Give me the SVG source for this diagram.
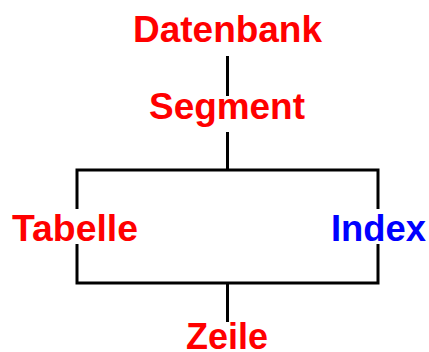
<svg xmlns="http://www.w3.org/2000/svg" width="429" height="352" viewBox="0 0 429 352">
<style>
.t{font-family:"Liberation Sans",Arial,sans-serif;font-weight:bold;font-size:36px;text-anchor:middle}
.r{fill:#ff0000}
.b{fill:#0000ff}
.c{stroke:#000;stroke-width:3;fill:none}
</style>
<rect width="429" height="352" fill="#fff"/>
<g id="connectors">
<line class="c" x1="227.5" y1="56" x2="227.5" y2="96"/>
<polyline class="c" points="227.5,132 227.5,170"/>
<polyline class="c" points="77,209 77,170 378,170 378,209"/>
<polyline class="c" points="77,244 77,283 378,283 378,244"/>
<line class="c" x1="227.5" y1="283" x2="227.5" y2="322"/>
</g>
<g id="datenbank"><text class="t r" x="227.5" y="42" textLength="189" lengthAdjust="spacingAndGlyphs">Datenbank</text></g>
<g id="segment"><text class="t r" x="227" y="119" textLength="156" lengthAdjust="spacingAndGlyphs">Segment</text></g>
<g id="tabelle"><text class="t r" x="75" y="241" textLength="126" lengthAdjust="spacingAndGlyphs">Tabelle</text></g>
<g id="index"><text class="t b" x="378.5" y="241" textLength="95" lengthAdjust="spacingAndGlyphs">Index</text></g>
<g id="zeile"><text class="t r" x="227" y="349" textLength="82" lengthAdjust="spacingAndGlyphs">Zeile</text></g>
</svg>
